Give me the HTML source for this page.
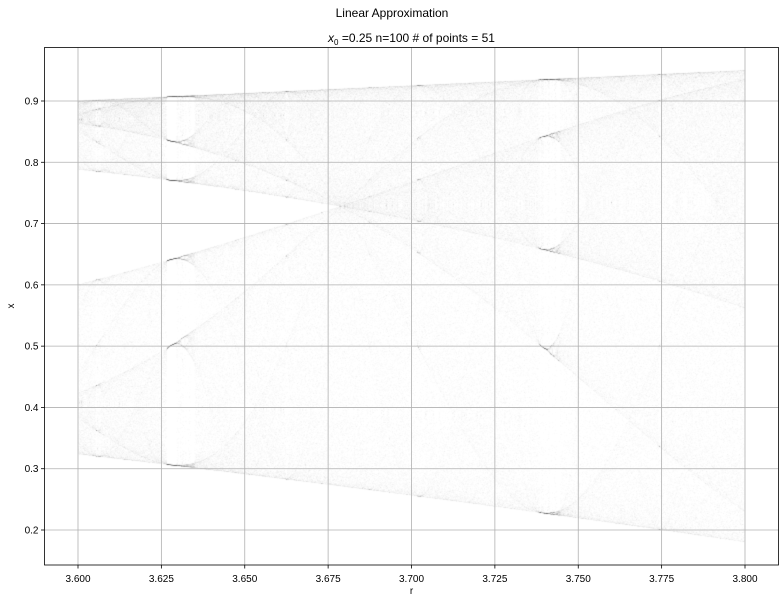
<!DOCTYPE html>
<html><head><meta charset="utf-8"><style>
body{margin:0;background:#fff;font-family:"Liberation Sans",sans-serif}
#wrap{position:relative;width:784px;height:603px}
canvas,svg{position:absolute;left:0;top:0}
</style></head><body>
<div id="wrap">
<canvas id="cv" width="784" height="603"></canvas>
<svg id="sv" width="784" height="603"></svg>
</div>
<script>
const rRange = [3.6, 3.8];
const rCount = [5000];
const x0Values = [0.25];
const nIter = [100];
const nKeep = [51];
const xTicks = [3.600,3.625,3.650,3.675,3.700,3.725,3.750,3.775,3.800];
const yTicks = [0.2,0.3,0.4,0.5,0.6,0.7,0.8,0.9];

const L=44.5,R=778.5,T=47.5,B=565;
function X(r){return 78+(r-3.6)*3335;}
function Y(v){return 530-(v-0.2)*612.86;}

const cv=document.getElementById('cv'),ctx=cv.getContext('2d');
ctx.save();ctx.beginPath();ctx.rect(L,T,R-L,B-T);ctx.clip();
ctx.fillStyle='rgba(0,0,0,0.05)';
const N=rCount[0];
for(let i=0;i<N;i++){
  const r=rRange[0]+(rRange[1]-rRange[0])*i/(N-1);
  let x=x0Values[0];
  for(let k=0;k<nIter[0];k++){
    x=r*x*(1-x);
    if(k>=nIter[0]-nKeep[0]) ctx.fillRect(X(r)-0.35,Y(x)-0.35,0.7,0.7);
  }
}
ctx.restore();

const ns='http://www.w3.org/2000/svg',sv=document.getElementById('sv');
function el(t,a,txt){const e=document.createElementNS(ns,t);for(const k in a)e.setAttribute(k,a[k]);if(txt!==undefined)e.textContent=txt;sv.appendChild(e);return e;}
xTicks.forEach(t=>{
  const e=el('line',{x1:X(t),x2:X(t),y1:T,y2:B,stroke:'#b0b0b0','stroke-width':0.8});
  
  
  el('line',{x1:X(t),x2:X(t),y1:B,y2:B+3.5,stroke:'#000','stroke-width':0.8});
  const l=el('text',{x:X(t),y:B+17,'font-size':10,'text-anchor':'middle',fill:'#000'},t.toFixed(3));
  
  
});
yTicks.forEach(t=>{
  const e=el('line',{x1:L,x2:R,y1:Y(t),y2:Y(t),stroke:'#b0b0b0','stroke-width':0.8});
  
  
  el('line',{x1:L-3.5,x2:L,y1:Y(t),y2:Y(t),stroke:'#000','stroke-width':0.8});
  const l=el('text',{x:L-6,y:Y(t)+3.5,'font-size':10,'text-anchor':'end',fill:'#000'},t.toFixed(1));
  
  
});
const fr=el('rect',{x:L,y:T,width:R-L,height:B-T,fill:'none',stroke:'#000','stroke-width':0.8});


const t1=el('text',{x:392,y:17,'font-size':12,'text-anchor':'middle'},'Linear Approximation');


const t2=el('text',{x:411.5,y:42,'font-size':12,'text-anchor':'middle'});


t2.innerHTML='<tspan font-style="italic">x</tspan><tspan font-size="8" dy="3">0</tspan><tspan dy="-3"> =0.25 n=100 # of points = 51</tspan>';
const xl=el('text',{x:411.5,y:594,'font-size':10,'text-anchor':'middle'},'r');


const yl=el('text',{x:14,y:306,'font-size':10,'text-anchor':'middle',transform:'rotate(-90 14 306)'},'x');


</script>
</body></html>
